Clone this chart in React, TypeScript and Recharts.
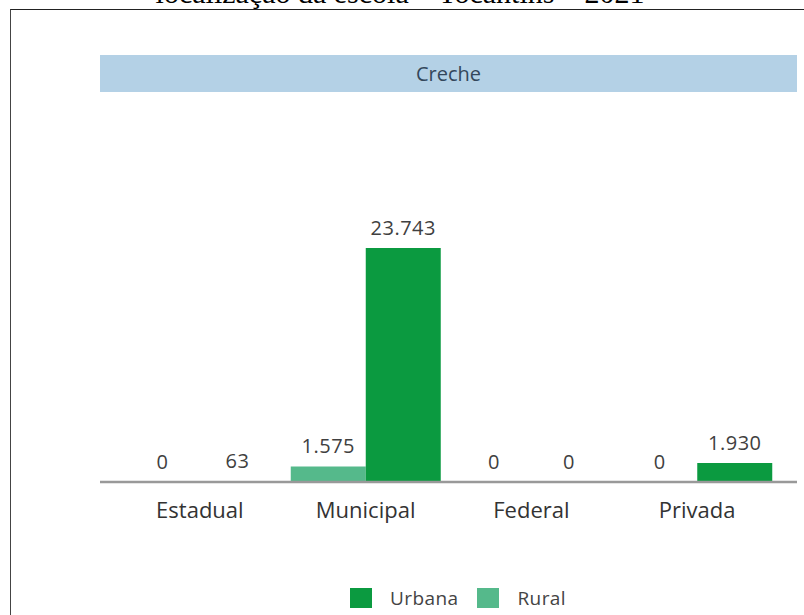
import React from 'react';
import { BarChart, Bar, XAxis, YAxis, LabelList } from 'recharts';

const categories = ['Estadual', 'Municipal', 'Federal', 'Privada'];
const ruralValues = [0, 1575, 0, 0];
const urbanaValues = [63, 23743, 0, 1930];
const seriesNames = { rural: 'Rural', urbana: 'Urbana' };
const headerText = 'Creche';
const titleText = 'localização da escola – Tocantins – 2021';

const data = categories.map((c, i) => ({ name: c, rural: ruralValues[i], urbana: urbanaValues[i] }));

const URBANA = '#0b9a40';
const RURAL = '#55b98b';
const FONT = '"Open Sans", "Noto Sans", sans-serif';

const fmt = (v: any) => String(v).replace(/\B(?=(\d{3})+(?!\d))/g, '.');

const legendItems = [
  { name: seriesNames.urbana, color: URBANA },
  { name: seriesNames.rural, color: RURAL },
];

const CatTick = (props: any) => {
  const { x, y, payload } = props;
  return (
    <text x={x} y={y + 28} textAnchor="middle" fontSize={22} fill="#333" fontFamily={FONT}>
      {payload.value}
    </text>
  );
};

export default function App() {
  return (
    <div style={{ position: 'absolute', left: 0, top: 0, width: 804, height: 615, overflow: 'hidden', background: '#fff' }}>
      <div style={{ position: 'absolute', left: 0, width: 800, top: -22.5, textAlign: 'center', fontFamily: '"Liberation Serif", "Times New Roman", serif', fontSize: 30, color: '#000', whiteSpace: 'nowrap', lineHeight: '30px' }}>
        {titleText}
      </div>
      <div style={{ position: 'absolute', left: 10, top: 9, width: 820, height: 640, borderTop: '1.5px solid #222', borderLeft: '1.5px solid #444' }} />
      <div style={{ position: 'absolute', left: 100, top: 55, width: 697, height: 37, background: '#b4d1e6', display: 'flex', alignItems: 'center', justifyContent: 'center', fontFamily: FONT, fontSize: 20, color: '#33475b' }}>
        {headerText}
      </div>
      <div style={{ position: 'absolute', left: 0, top: 0 }}>
        <BarChart width={804} height={615} data={data} barCategoryGap={8} barGap={0}
          margin={{ top: 186.3, right: 7, bottom: 103, left: 100 }}>
          <XAxis dataKey="name" height={30} axisLine={{ stroke: '#999', strokeWidth: 2.5 }} tickLine={false}
            tick={<CatTick />} padding={{ left: 17, right: 17 }} interval={0} />
          <YAxis hide domain={[0, 30000]} />
          <Bar dataKey="rural" name={seriesNames.rural} fill={RURAL} isAnimationActive={false} minPointSize={0.1}>
            <LabelList dataKey="rural" position="top" offset={13} formatter={fmt} fill="#404040" fontSize={20} letterSpacing={0.5} fontFamily={FONT} />
          </Bar>
          <Bar dataKey="urbana" name={seriesNames.urbana} fill={URBANA} isAnimationActive={false} minPointSize={0.1}>
            <LabelList dataKey="urbana" position="top" offset={13} formatter={fmt} fill="#404040" fontSize={20} letterSpacing={0.5} fontFamily={FONT} />
          </Bar>
        </BarChart>
      </div>
      <div style={{ position: 'absolute', left: 119, width: 697, top: 588, height: 20, display: 'flex', justifyContent: 'center', alignItems: 'center', fontFamily: FONT, fontSize: 19, color: '#444' }}>
        {legendItems.map((it) => (
          <div key={it.name} style={{ display: 'flex', alignItems: 'center', marginRight: 19 }}>
            <span style={{ display: 'inline-block', width: 22, height: 20, background: it.color, marginRight: 18 }} />
            <span style={{ letterSpacing: 0.4 }}>{it.name}</span>
          </div>
        ))}
      </div>
    </div>
  );
}
